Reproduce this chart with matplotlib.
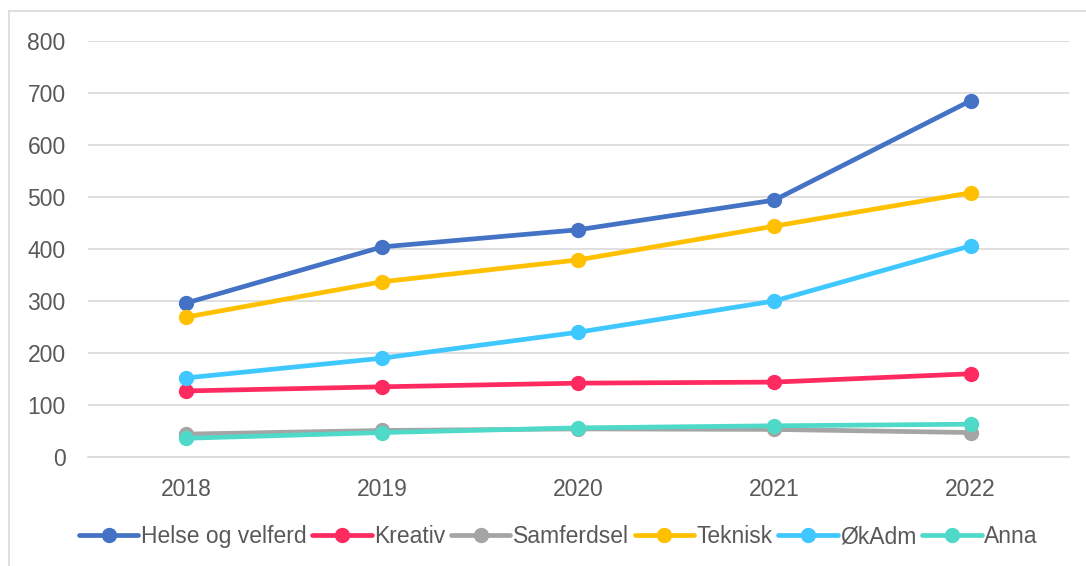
import matplotlib.pyplot as plt
from matplotlib.lines import Line2D

# --- data ---
years = ['2018', '2019', '2020', '2021', '2022']
helse = [296, 404, 437, 494, 685]
kreativ = [127, 135, 142, 144, 160]
samferdsel = [44, 51, 54, 53, 47]
teknisk = [269, 337, 379, 444, 508]
okadm = [152, 190, 240, 300, 406]
anna = [36, 47, 56, 60, 63]

series = [
    ('Helse og velferd', helse, '#4472C4'),
    ('Kreativ', kreativ, '#FF2A5F'),
    ('Samferdsel', samferdsel, '#A5A5A5'),
    ('Teknisk', teknisk, '#FFC000'),
    ('ØkAdm', okadm, '#3FC8FF'),
    ('Anna', anna, '#4FD9C9'),
]

plt.rcParams['font.family'] = ['Liberation Sans', 'DejaVu Sans']
text_col = '#595959'

fig = plt.figure(figsize=(10.86, 5.66), dpi=100)
ax = fig.add_axes([0.081, 0.1926, 0.903, 0.735])

x = range(len(years))
for name, vals, col in series:
    ax.plot(x, vals, color=col, lw=3.4, marker='o', ms=10, label=name,
            solid_capstyle='round')

ax.set_xlim(-0.5, 4.5)
ax.set_ylim(0, 800)
ax.set_yticks(range(0, 801, 100))
ax.set_xticks(list(x))
ax.set_xticklabels(years)
ax.grid(axis='y', color='#D9D9D9', lw=1.2)
ax.set_axisbelow(True)
for s in ax.spines.values():
    s.set_visible(False)
ax.spines['bottom'].set_visible(True)
ax.spines['bottom'].set_color('#D9D9D9')
ax.spines['bottom'].set_linewidth(1.2)
ax.tick_params(length=0, labelsize=16.5, colors=text_col)
ax.tick_params(axis='y', pad=16)
ax.tick_params(axis='x', pad=15)

leg = fig.legend(loc='center', bbox_to_anchor=(0.514, 0.052), ncol=6,
                 frameon=False, fontsize=16.5, handlelength=2.6,
                 handletextpad=0.1, columnspacing=0.25)
for t in leg.get_texts():
    t.set_color(text_col)

# outer chart border (left and top only visible)
fig.add_artist(Line2D([9 / 1086, 9 / 1086], [0, 1 - 11 / 566],
                      transform=fig.transFigure, color='#D9D9D9', lw=1.2))
fig.add_artist(Line2D([9 / 1086, 1], [1 - 11 / 566, 1 - 11 / 566],
                      transform=fig.transFigure, color='#D9D9D9', lw=1.2))

fig.savefig('out.png', dpi=100)
